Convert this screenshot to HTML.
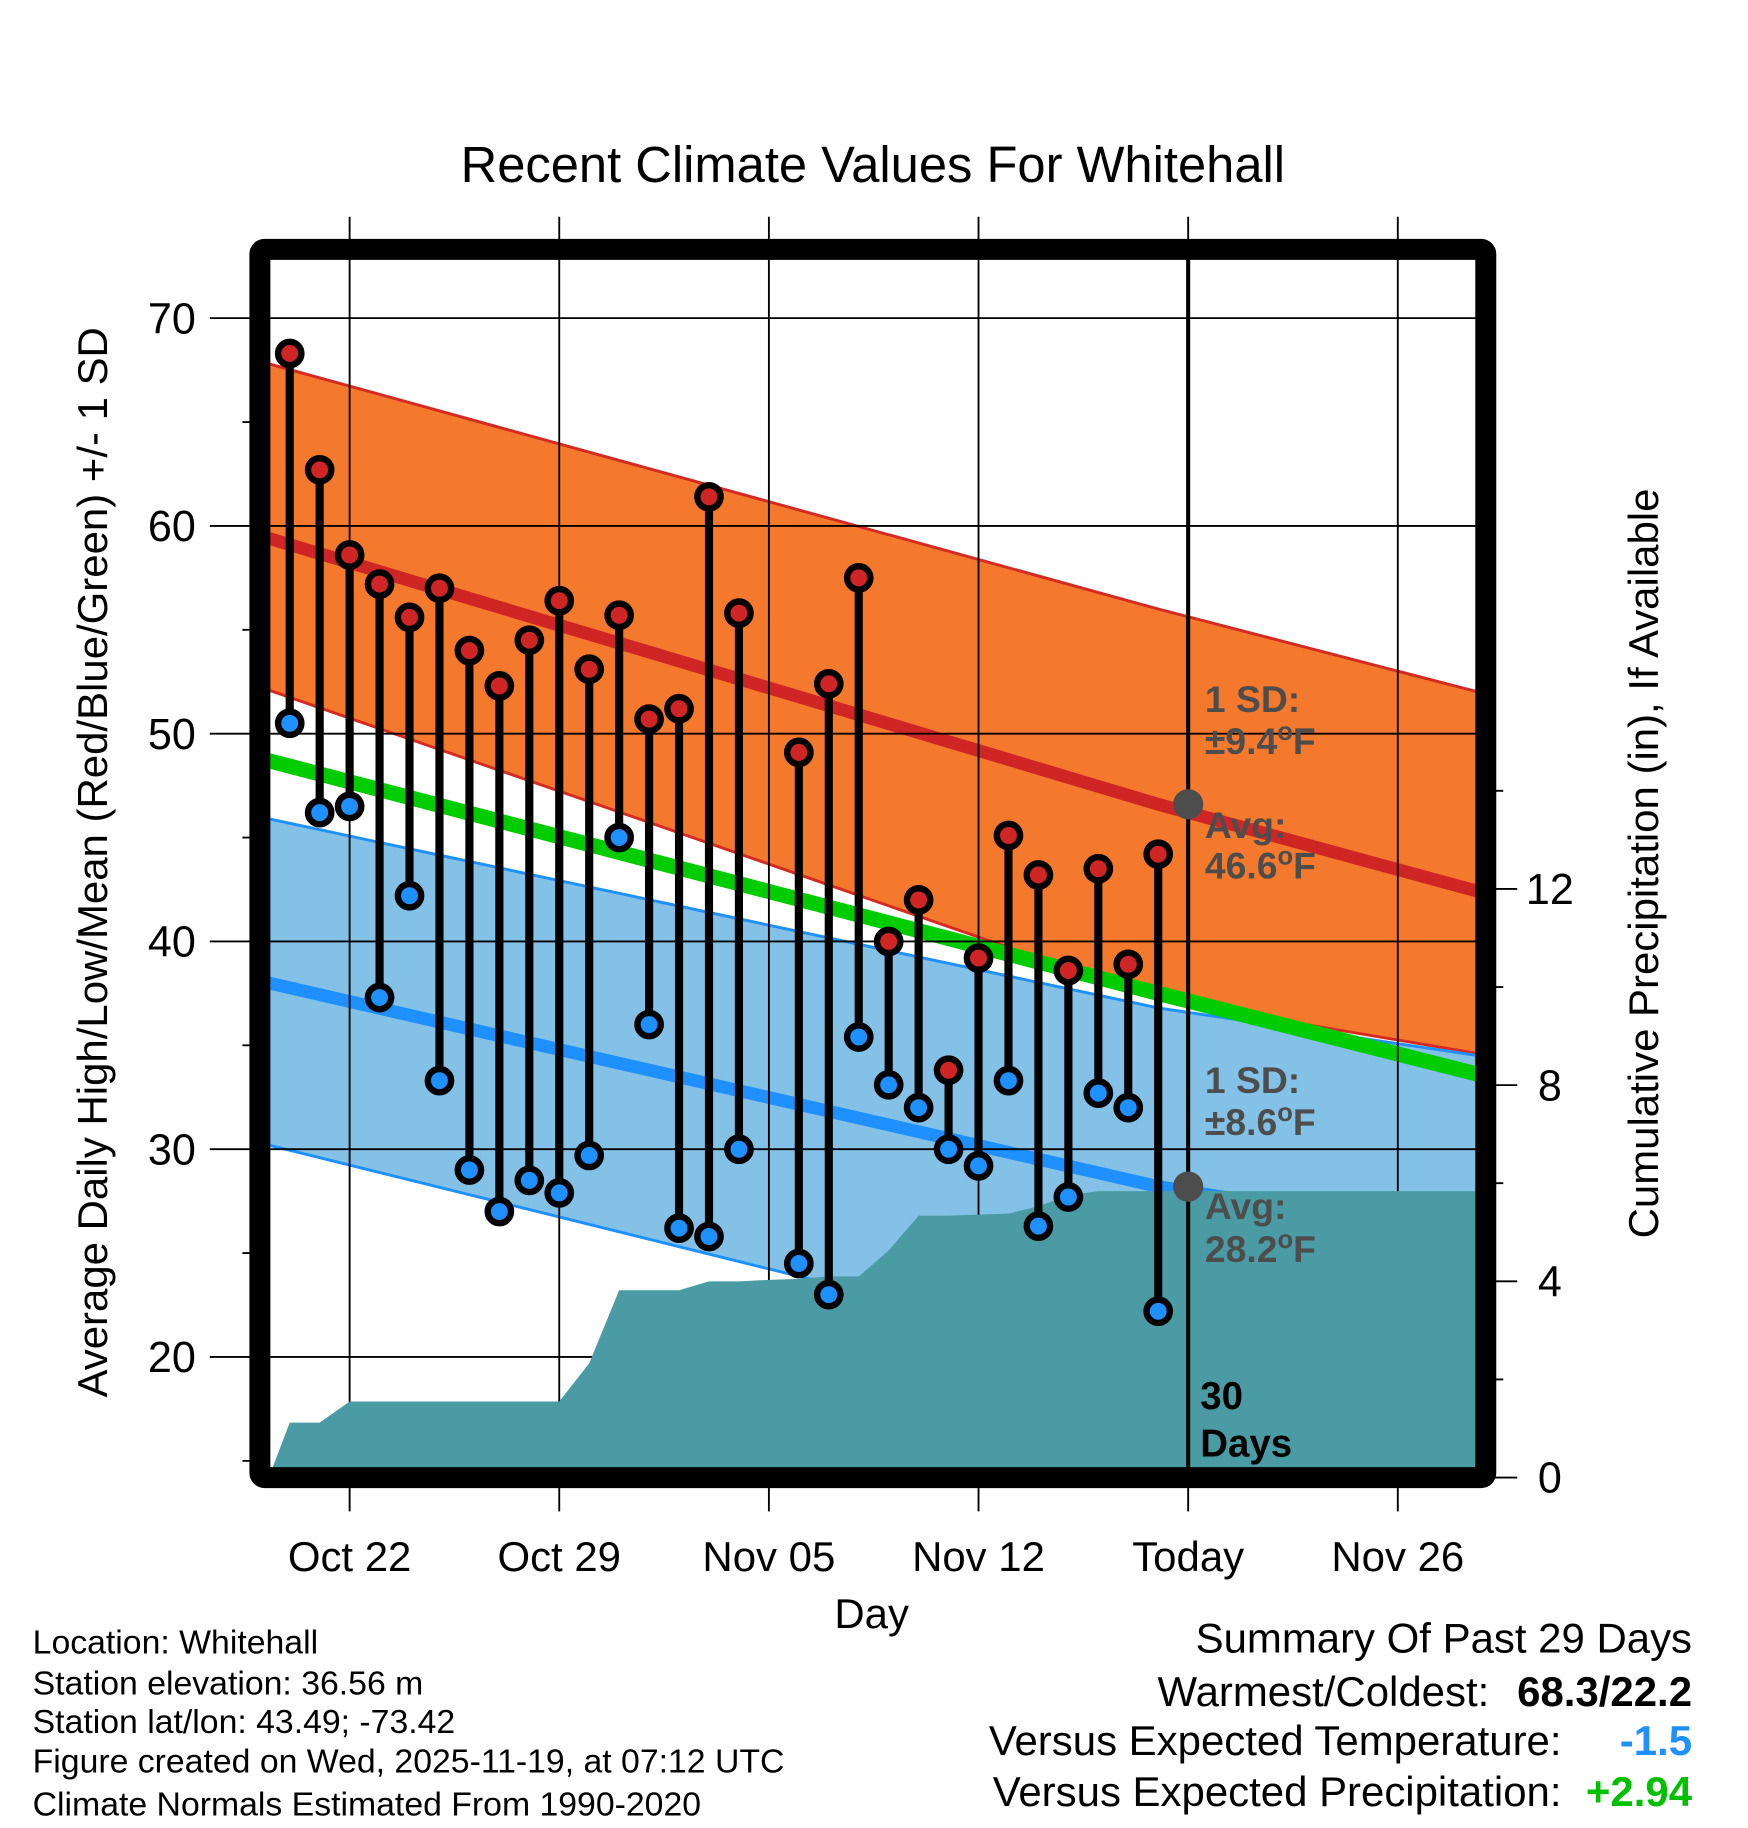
<!DOCTYPE html>
<html><head><meta charset="utf-8"><style>
html,body{margin:0;padding:0;background:#fff}
svg{display:block;font-family:"Liberation Sans",Arial,sans-serif}
</style></head><body>
<svg id="chart" width="1748" height="1828" viewBox="0 0 1500 1568.7" xmlns="http://www.w3.org/2000/svg">
<g id="bands"></g>
<g id="grid"></g>
<g id="precip"></g>
<g id="stems"></g>
<g id="overlay"></g>
<text x="749" y="156" font-size="43.5" text-anchor="middle">Recent Climate Values For Whitehall</text>
<text transform="translate(92,740) rotate(-90)" font-size="36" text-anchor="middle">Average Daily High/Low/Mean (Red/Blue/Green) +/- 1 SD</text>
<text transform="translate(1423,741) rotate(-90)" font-size="36" text-anchor="middle">Cumulative Precipitation (in), If Available</text>
<text x="748" y="1397" font-size="36" text-anchor="middle">Day</text>
<g font-size="29">
<text x="28" y="1419">Location: Whitehall</text>
<text x="28" y="1454">Station elevation: 36.56 m</text>
<text x="28" y="1487">Station lat/lon: 43.49; -73.42</text>
<text x="28" y="1521">Figure created on Wed, 2025-11-19, at 07:12 UTC</text>
<text x="28" y="1558">Climate Normals Estimated From 1990-2020</text>
</g>
<g font-size="36">
<text x="1452" y="1418" text-anchor="end">Summary Of Past 29 Days</text>
<text x="1278" y="1464" text-anchor="end">Warmest/Coldest:</text>
<text x="1452" y="1464" text-anchor="end" font-weight="bold">68.3/22.2</text>
<text x="1340" y="1506" text-anchor="end">Versus Expected Temperature:</text>
<text x="1452" y="1506" text-anchor="end" font-weight="bold" fill="#1e90ff">-1.5</text>
<text x="1340" y="1550" text-anchor="end">Versus Expected Precipitation:</text>
<text x="1452" y="1550" text-anchor="end" font-weight="bold" fill="#00c000">+2.94</text>
</g>
</svg>
<script>
// ---- data ----
const dayOffsets = [-2,-1,0,1,2,3,4,5,6,7,8,9,10,11,12,13,15,16,17,18,19,20,21,22,23,24,25,26,27];
const highs = [68.3,62.7,58.6,57.2,55.6,57.0,54.0,52.3,54.5,56.4,53.1,55.7,50.7,51.2,61.4,55.8,49.1,52.4,57.5,40.0,42.0,33.8,39.2,45.1,43.2,38.6,43.5,38.9,44.2];
const lows  = [50.5,46.2,46.5,37.3,42.2,33.3,29.0,27.0,28.5,27.9,29.7,45.0,36.0,26.2,25.8,30.0,24.5,23.0,35.4,33.1,32.0,30.0,29.2,33.3,26.3,27.7,32.7,32.0,22.2];
const normDays = [-2.7,27,37.7];
const avgHigh = [59.4,46.6,42.4];
const highUpper = [67.8,56.0,52.0];
const highLower = [52.1,37.2,34.6];
const avgLow = [38.0,28.2,25.7];
const lowUpper = [45.9,36.8,34.5];
const lowLower = [30.2,19.6,17.0];
const avgMean = [48.7,37.5,33.6];
const precipDays = [-2.7,-2,-1,0,1,2,3,4,5,6,7,8,9,10,11,12,13,14,15,16,17,18,19,20,21,22,23,24,25,26,27,37.7];
const precipVals = [0,1.12,1.12,1.55,1.55,1.55,1.55,1.55,1.55,1.55,1.55,2.33,3.82,3.82,3.82,4.0,4.0,4.03,4.05,4.1,4.1,4.63,5.34,5.34,5.36,5.38,5.53,5.75,5.84,5.84,5.84,5.84];
const xTickDays = [0,7,14,21,28,35];
const xTickLabels = ["Oct 22","Oct 29","Nov 05","Nov 12","Today","Nov 26"];
const yTicks = [20,30,40,50,60,70];
const y2Ticks = [0,4,8,12];

// ---- axes ----
const X0=230,X1=1270,Y0=223,Y1=1260;
const x = d => 300 + d*25.7;
const y = t => 273 + (70-t)*17.83;
const yp = p => 1268 - p*42.1;
const NS="http://www.w3.org/2000/svg";
function mk(tag,attrs,parent){const e=document.createElementNS(NS,tag);for(const k in attrs)e.setAttribute(k,attrs[k]);parent.appendChild(e);return e;}
const bands=document.getElementById('bands'),grid=document.getElementById('grid'),precip=document.getElementById('precip'),stems=document.getElementById('stems'),ov=document.getElementById('overlay');

function linePts(arr){return normDays.map((d,i)=>x(d)+','+y(arr[i])).join(' ');}
function bandPts(up,lo){return normDays.map((d,i)=>x(d)+','+y(up[i])).concat(normDays.slice().reverse().map((d,j)=>x(d)+','+y(lo[normDays.length-1-j]))).join(' ');}

let e;
e=mk('polygon',{points:bandPts(highUpper,highLower),fill:'#f5792d',stroke:'#d42a22','stroke-width':2.5},bands);


e=mk('polygon',{points:bandPts(lowUpper,lowLower),fill:'#84c1e6',stroke:'#1e90ff','stroke-width':2.5},bands);


e=mk('polyline',{points:linePts(avgHigh),fill:'none',stroke:'#d02525','stroke-width':11},bands);


e=mk('polyline',{points:linePts(avgLow),fill:'none',stroke:'#1e90ff','stroke-width':11},bands);


e=mk('polyline',{points:linePts(avgMean),fill:'none',stroke:'#00cc00','stroke-width':13},bands);



// precip area
let pp=precipDays.map((d,i)=>x(d)+','+yp(precipVals[i]));
pp.push(x(precipDays[precipDays.length-1])+','+Y1, x(precipDays[0])+','+Y1);
e=mk('polygon',{points:pp.join(' '),fill:'#4a9ba3'},precip);



// grid
yTicks.forEach(t=>{
  e=mk('line',{x1:180,x2:X1,y1:y(t),y2:y(t),stroke:'#000','stroke-width':1.6},grid);
  
  
  e=mk('text',{x:168,y:y(t)+13,'font-size':37,'text-anchor':'end'},grid);
  e.textContent=t;
  
  
  e=mk('line',{x1:208,x2:230,y1:y(t-5),y2:y(t-5),stroke:'#000','stroke-width':1.6},grid);
  
  
});
xTickDays.forEach((d,i)=>{
  e=mk('line',{x1:x(d),x2:x(d),y1:186,y2:1297,stroke:'#000','stroke-width':1.6},grid);
  
  
  e=mk('text',{x:x(d),y:1348,'font-size':36,'text-anchor':'middle'},grid);
  e.textContent=xTickLabels[i];
  
  
});
y2Ticks.forEach(p=>{
  e=mk('line',{x1:1270,x2:1302,y1:yp(p),y2:yp(p),stroke:'#000','stroke-width':1.6},grid);
  
  
  e=mk('line',{x1:1270,x2:1290,y1:yp(p+2),y2:yp(p+2),stroke:'#000','stroke-width':1.6},grid);
  
  
  e=mk('text',{x:1330,y:yp(p)+13,'font-size':37,'text-anchor':'middle'},grid);
  e.textContent=p;
  
  
});

// stems and points
dayOffsets.forEach((d,i)=>{
  e=mk('line',{x1:x(d),x2:x(d),y1:y(highs[i]),y2:y(lows[i]),stroke:'#000','stroke-width':7},stems);
  
  
  e=mk('circle',{cx:x(d),cy:y(highs[i]),r:10,fill:'#d02525',stroke:'#000','stroke-width':5.5},stems);
  
  
  e=mk('circle',{cx:x(d),cy:y(lows[i]),r:10,fill:'#1e90ff',stroke:'#000','stroke-width':5.5},stems);
  
  
});

// today line, markers, labels
const today=28;
e=mk('line',{x1:x(today),x2:x(today),y1:Y0,y2:Y1,stroke:'#000','stroke-width':3.5},ov);


e=mk('circle',{cx:x(today),cy:y(46.6),r:13,fill:'#4d4d4d'},ov);


e=mk('circle',{cx:x(today),cy:y(28.2),r:13,fill:'#4d4d4d'},ov);


const ann=[["1 SD:","",611],["±9.4","F",647],["Avg:","",719],["46.6","F",754],["1 SD:","",938],["±8.6","F",974],["Avg:","",1046],["28.2","F",1083]];
ann.forEach(a=>{
  e=mk('text',{x:1034,y:a[2],'font-size':32,'font-weight':'bold',fill:'#4d4d4d'},ov);
  
  
  const t1=mk('tspan',{},e); t1.textContent=a[0];
  if(a[1]){
    const t2=mk('tspan',{dy:-12,'font-size':22},e); t2.textContent='o';
    const t3=mk('tspan',{dy:12},e); t3.textContent=a[1];
  }
});
[["30",1209],["Days",1250]].forEach(a=>{
  e=mk('text',{x:1030,y:a[1],'font-size':33,'font-weight':'bold',fill:'#000'},ov);
  e.textContent=a[0];
  
  
});
// frame
e=mk('rect',{x:223,y:214,width:1052,height:1054,fill:'none',stroke:'#000','stroke-width':18,rx:4},ov);


</script>
</body></html>
